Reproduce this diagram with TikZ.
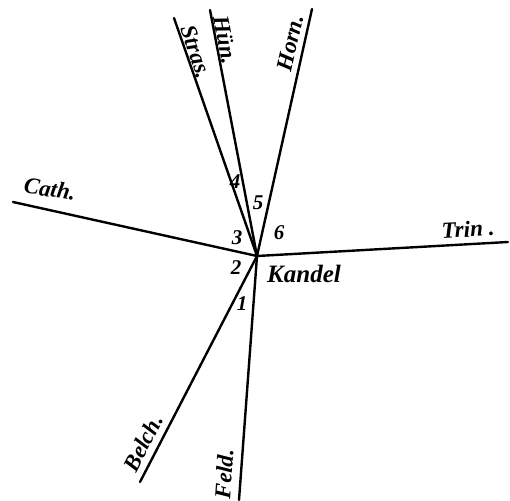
\documentclass[tikz,border=0pt]{standalone}
\usepackage{fontspec}
\setmainfont{Liberation Serif}
\begin{document}
\begin{tikzpicture}[x=1pt,y=-1pt,
  ray/.style={line width=2.4pt},
  word/.style={inner sep=0pt,font=\fontsize{23}{23}\selectfont\bfseries\itshape},
  num/.style={inner sep=0pt,font=\fontsize{21}{21}\selectfont\bfseries\itshape}]
\useasboundingbox[fill=white] (0,0) rectangle (510,500);
\coordinate (K) at (257,256);
\coordinate (S) at (174,18);
\coordinate (H) at (210,10);
\coordinate (O) at (312,9);
\coordinate (C) at (13,202);
\coordinate (T) at (508,242);
\coordinate (B) at (140,482);
\coordinate (F) at (239,500);
\foreach \p in {S,H,O,C,T,B,F} \draw[ray,line cap=round] (K) -- (\p);
\node[word,rotate=-71] (ls) at (196,52) {Stras.};
\node[word,rotate=-79] (lh) at (225,40) {Hün.};
\node[word,rotate=77] (lo) at (290,43) {Horn.};
\node[word,rotate=-9] (lc) at (50,189) {Cath.};
\node[word,rotate=3] (lt) at (468,229) {Trin .};
\node[word,rotate=63] (lb) at (143,443) {Belch.};
\node[word,rotate=86] (lf) at (224,474) {Feld.};
\node[word,font=\fontsize{25}{25}\selectfont\bfseries\itshape] (lk) at (304,274) {Kandel};
\node[num] (n4) at (235,182) {4};
\node[num] (n5) at (258,203) {5};
\node[num] (n3) at (237,238) {3};
\node[num] (n6) at (279,233) {6};
\node[num] (n2) at (236,268) {2};
\node[num] (n1) at (242,304) {1};
\end{tikzpicture}
\end{document}
